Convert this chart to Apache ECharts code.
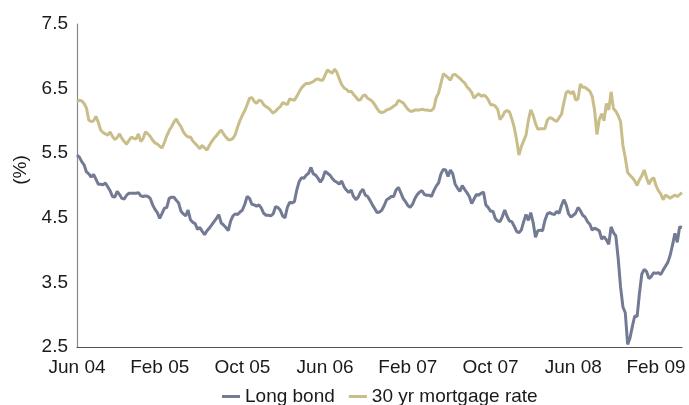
<!DOCTYPE html>
<html>
<head>
<meta charset="utf-8">
<script src="https://cdn.jsdelivr.net/npm/echarts@6/dist/echarts.min.js"></script>
<style>
html,body{margin:0;padding:0;background:#fff;}
#chart{width:689px;height:405px;}
</style>
</head>
<body>
<div id="chart"></div>
<script>
// Weekly observations starting 4 Jun 2004
const startDate = Date.UTC(2004, 5, 4);
const seriesNames = ['Long bond', '30 yr mortgage rate'];
const yTicks = [2.5, 3.5, 4.5, 5.5, 6.5, 7.5];
const monthNames = ['Jan','Feb','Mar','Apr','May','Jun','Jul','Aug','Sep','Oct','Nov','Dec'];
const labelEvery = 35; // one x label every 35 weeks (8 months)

const longBond = [
5.47,5.44,5.37,5.32,5.21,5.18,5.13,5.17,5.10,5.02,
5.02,5.01,5.04,4.98,4.92,4.83,4.82,4.91,4.86,4.80,
4.79,4.85,4.88,4.88,4.88,4.88,4.89,4.84,4.83,4.84,
4.83,4.80,4.70,4.63,4.58,4.49,4.57,4.65,4.66,4.80,
4.82,4.82,4.77,4.73,4.60,4.56,4.53,4.62,4.47,4.43,
4.41,4.32,4.35,4.29,4.24,4.30,4.34,4.39,4.44,4.49,
4.55,4.42,4.39,4.35,4.30,4.45,4.53,4.56,4.55,4.59,
4.62,4.71,4.83,4.80,4.71,4.70,4.68,4.70,4.65,4.57,
4.54,4.54,4.53,4.56,4.67,4.66,4.62,4.53,4.50,4.66,
4.74,4.73,4.75,4.93,5.06,5.12,5.11,5.16,5.19,5.28,
5.18,5.16,5.11,5.05,5.11,5.22,5.19,5.16,5.11,5.07,
5.05,5.02,5.07,4.98,4.93,4.89,4.93,4.83,4.78,4.82,
4.90,4.94,4.85,4.83,4.77,4.70,4.64,4.58,4.59,4.62,
4.69,4.78,4.80,4.83,4.83,4.93,4.97,4.89,4.80,4.75,
4.69,4.66,4.71,4.80,4.86,4.90,4.92,4.86,4.85,4.85,
4.83,4.92,4.99,5.04,5.18,5.25,5.24,5.14,5.24,5.18,
5.02,4.96,4.91,5.00,4.94,4.89,4.83,4.72,4.79,4.86,
4.85,4.88,4.90,4.70,4.66,4.60,4.60,4.49,4.45,4.44,
4.52,4.62,4.52,4.45,4.44,4.37,4.29,4.27,4.31,4.44,
4.55,4.46,4.58,4.43,4.20,4.30,4.31,4.30,4.46,4.56,
4.58,4.56,4.55,4.60,4.57,4.69,4.78,4.70,4.56,4.51,
4.54,4.57,4.66,4.61,4.54,4.51,4.44,4.40,4.31,4.34,
4.32,4.30,4.17,4.21,4.16,4.09,4.36,4.27,4.22,3.87,
3.43,3.12,3.03,2.54,2.64,2.82,2.98,2.97,3.33,3.63,
3.70,3.67,3.56,3.59,3.65,3.64,3.65,3.62,3.69,3.75,
3.81,3.92,4.08,4.26,4.12,4.36,4.35
];

const mortgage30 = [
6.30,6.32,6.31,6.27,6.20,6.01,5.99,6.00,6.07,5.98,
5.86,5.82,5.80,5.78,5.83,5.76,5.71,5.74,5.80,5.73,
5.68,5.64,5.70,5.75,5.73,5.72,5.80,5.68,5.73,5.83,
5.80,5.76,5.70,5.66,5.64,5.61,5.58,5.67,5.77,5.85,
5.91,5.98,6.03,5.96,5.91,5.83,5.78,5.75,5.75,5.69,
5.65,5.61,5.57,5.62,5.58,5.55,5.62,5.68,5.73,5.77,
5.82,5.86,5.80,5.75,5.71,5.71,5.73,5.79,5.91,6.01,
6.09,6.16,6.25,6.35,6.36,6.30,6.27,6.32,6.31,6.25,
6.22,6.20,6.16,6.12,6.15,6.19,6.22,6.28,6.27,6.25,
6.34,6.33,6.32,6.38,6.45,6.51,6.55,6.58,6.58,6.59,
6.61,6.64,6.65,6.63,6.63,6.71,6.79,6.76,6.74,6.80,
6.75,6.65,6.56,6.51,6.49,6.45,6.46,6.41,6.37,6.32,
6.33,6.39,6.40,6.35,6.33,6.30,6.25,6.19,6.14,6.13,
6.14,6.17,6.18,6.20,6.23,6.25,6.32,6.30,6.28,6.23,
6.18,6.15,6.15,6.17,6.17,6.17,6.18,6.17,6.17,6.16,
6.16,6.20,6.36,6.43,6.58,6.73,6.70,6.67,6.63,6.71,
6.72,6.69,6.66,6.62,6.59,6.53,6.49,6.44,6.35,6.39,
6.42,6.38,6.40,6.38,6.33,6.25,6.25,6.23,6.18,6.02,
6.07,6.14,6.16,6.14,6.03,5.90,5.71,5.47,5.60,5.69,
5.78,6.01,6.17,6.09,5.96,5.87,5.88,5.88,5.88,6.01,
6.05,6.04,6.01,5.99,6.05,6.10,6.28,6.44,6.46,6.42,
6.46,6.32,6.34,6.57,6.52,6.52,6.49,6.46,6.38,6.17,
5.79,6.02,6.11,6.00,6.27,6.17,6.45,6.19,6.15,6.08,
5.99,5.62,5.43,5.20,5.16,5.12,5.07,5.00,5.09,5.15,
5.24,5.12,5.02,5.09,5.12,5.00,4.92,4.87,4.78,4.85,
4.83,4.80,4.83,4.85,4.83,4.86,4.89
];

const categories = longBond.map(function (_, i) {
  const d = new Date(startDate + i * 7 * 86400000);
  return monthNames[d.getUTCMonth()] + ' ' + String(d.getUTCFullYear() % 100).padStart(2, '0');
});

const font = "'Liberation Sans', Arial, Helvetica, sans-serif";
const textColor = '#1a1a1a';

const chart = echarts.init(document.getElementById('chart'), null, {renderer: 'canvas'});
chart.setOption({
  animation: false,
  backgroundColor: '#ffffff',
  grid: {left: 77, right: 7, top: 24, bottom: 58},
  legend: {
    data: seriesNames,
    left: 217,
    top: 382,
    icon: 'rect',
    itemWidth: 18,
    itemHeight: 3,
    itemGap: 14,
    textStyle: {fontFamily: font, fontSize: 19, color: textColor}
  },
  xAxis: {
    type: 'category',
    data: categories,
    boundaryGap: false,
    axisLine: {show: true, lineStyle: {color: '#555', width: 1.2}},
    axisTick: {show: false},
    splitLine: {show: false},
    axisLabel: {
      interval: function (idx) { return idx % labelEvery === 0; },
      hideOverlap: false,
      margin: 11,
      fontFamily: font,
      fontSize: 19,
      color: textColor
    }
  },
  yAxis: {
    type: 'value',
    min: 2.5,
    max: 7.5,
    axisLine: {show: true, lineStyle: {color: '#888', width: 1.2}},
    axisTick: {show: false},
    splitLine: {show: false},
    axisLabel: {
      customValues: yTicks,
      margin: 9,
      fontFamily: font,
      fontSize: 19,
      color: textColor,
      formatter: function (v) { return v.toFixed(1); }
    }
  },
  graphic: [{
    type: 'text',
    x: 21,
    y: 170,
    rotation: Math.PI / 2,
    style: {
      text: '(%)',
      font: '19px ' + font,
      fill: textColor,
      textAlign: 'center',
      textVerticalAlign: 'middle'
    }
  }],
  series: [
    {
      name: seriesNames[0],
      type: 'line',
      data: longBond,
      showSymbol: false,
      color: '#737a93',
      lineStyle: {width: 3, color: '#737a93'},
      z: 3
    },
    {
      name: seriesNames[1],
      type: 'line',
      data: mortgage30,
      showSymbol: false,
      color: '#c9bd8a',
      lineStyle: {width: 3, color: '#c9bd8a'},
      z: 2
    }
  ]
});
</script>
</body>
</html>
